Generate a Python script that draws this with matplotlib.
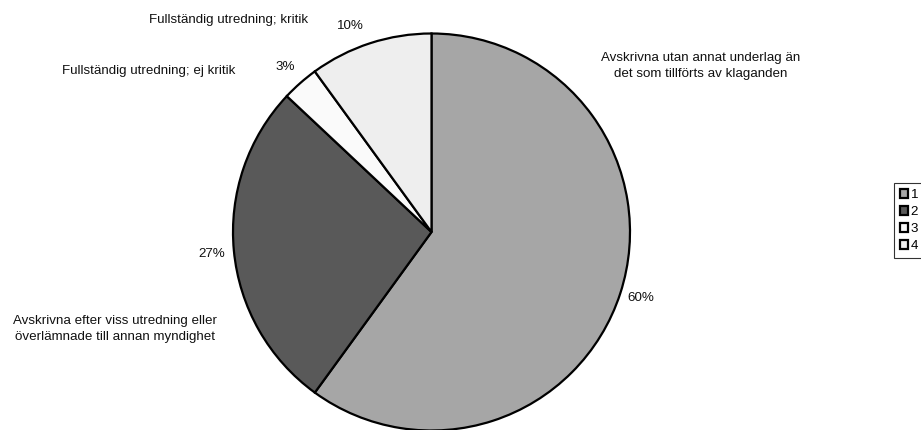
import matplotlib
matplotlib.use("Agg")
import matplotlib.pyplot as plt
from matplotlib.patches import Patch

plt.rcParams['font.family'] = ['Liberation Sans', 'DejaVu Sans']

# Share of complaints by outcome (percent), clockwise from 12 o'clock
values = [60, 27, 3, 10]
categories = [
    "Avskrivna utan annat underlag än\ndet som tillförts av klaganden",
    "Avskrivna efter viss utredning eller\növerlämnade till annan myndighet",
    "Fullständig utredning; ej kritik",
    "Fullständig utredning; kritik",
]
legend_labels = ["1", "2", "3", "4"]
colors = ["#a6a6a6", "#595959", "#fafafa", "#eeeeee"]

# Text placement in pixel coordinates (x, y from top)
category_pos = [(701, 66), (114.5, 329), (148.5, 71), (228.5, 20)]
percent_pos = [(641, 298), (211.5, 254), (285, 67), (350, 26)]

W, H = 921, 430
FS = 9.6
fig = plt.figure(figsize=(W / 100, H / 100), dpi=100)
ax = fig.add_axes([0, 0, 1, 1])

cx, cy, r = 431.5, H - 232, 198.5
wedges, _ = ax.pie(values, colors=colors, startangle=90, counterclock=False,
                   center=(cx, cy), radius=r, frame=True,
                   wedgeprops=dict(edgecolor='black', linewidth=1.6))
ax.set_xlim(0, W)
ax.set_ylim(0, H)
ax.set_aspect('equal')
ax.axis('off')

for text, (x, y) in zip(categories, category_pos):
    ax.text(x, H - y, text, ha='center', va='center', fontsize=FS,
            linespacing=1.45, color='#111111')
for v, (x, y) in zip(values, percent_pos):
    ax.text(x, H - y, f"{v}%", ha='center', va='center', fontsize=FS, color='#111111')

handles = [Patch(facecolor=c, edgecolor='black', linewidth=1.6) for c in colors]
leg = fig.legend(handles, legend_labels, loc='upper left',
                 bbox_to_anchor=(894 / W, 1 - 183 / H), fontsize=FS,
                 frameon=True, fancybox=False, handlelength=0.6, handleheight=0.6,
                 handletextpad=0.2, labelspacing=0.38, borderpad=0.45,
                 borderaxespad=0)
leg.get_frame().set_edgecolor('black')
leg.get_frame().set_linewidth(0.8)

fig.savefig("out.png", dpi=100, facecolor='white')
